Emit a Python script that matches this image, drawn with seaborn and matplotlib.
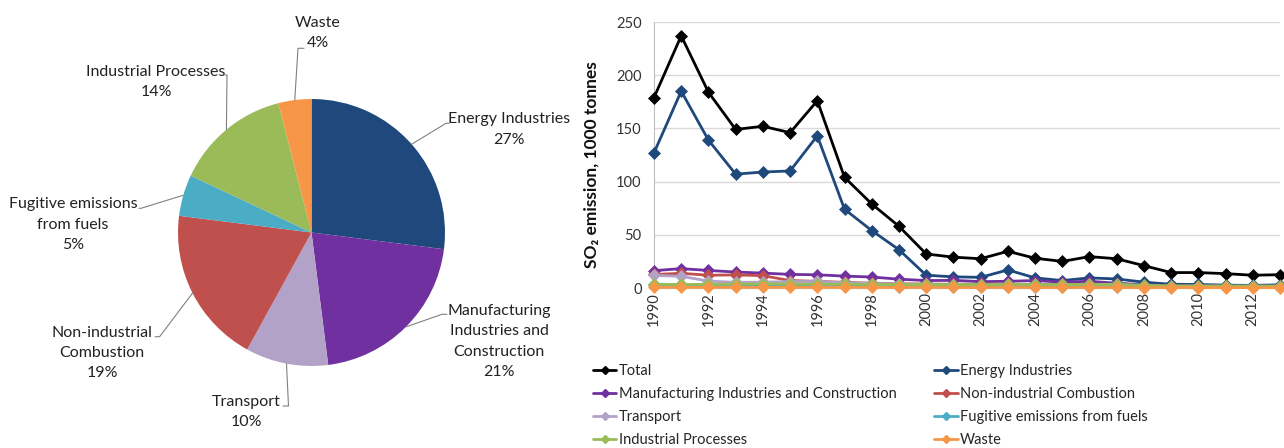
import numpy as np
import pandas as pd
import matplotlib
matplotlib.use("Agg")
import matplotlib.pyplot as plt
from matplotlib.lines import Line2D
import seaborn as sns

# ---------------- data ----------------
pie_labels = ["Energy Industries", "Manufacturing\nIndustries and\nConstruction", "Transport",
              "Non-industrial\nCombustion", "Fugitive emissions\nfrom fuels", "Industrial Processes", "Waste"]
pie_shares = [27, 21, 10, 19, 5, 14, 4]

years = list(range(1990, 2014))
total = [179, 237, 184, 149, 152, 146, 176, 104, 79, 58, 32, 29, 27.5, 34.5, 28, 25, 29.5, 27.5, 21, 14.5, 14.5, 13.5, 12, 12.5]
energy = [127, 185, 139, 107, 109, 110, 143, 74, 54, 36, 12, 10.5, 10, 17, 9.5, 7, 9.5, 8.5, 5.5, 3.5, 3.3, 2.7, 2.4, 3]
manufacturing = [16.3, 18.2, 16.5, 15, 14, 12.8, 12.4, 11.2, 10.3, 8.3, 7, 7.2, 6, 6.3, 7, 5.5, 6.3, 4.5, 3, 2.2, 2, 1.8, 1.6, 1.8]
non_industrial = [12.7, 13.8, 12, 12.3, 11.6, 7, 6.3, 5.3, 4.5, 4, 3.7, 3.6, 3.6, 3.5, 3.4, 3.3, 3.3, 3, 2, 1.8, 1.7, 1.5, 1.4, 1.4]
transport = [11.8, 11, 6.5, 5.3, 5.5, 6, 6.2, 4.8, 4.2, 3.8, 3.3, 3.2, 3, 2.8, 2.8, 2.6, 2.6, 2.4, 1.5, 1, 0.9, 0.8, 0.8, 0.8]
fugitive = [3, 2.8, 2.8, 2.8, 3.2, 2.6, 2.5, 2.2, 1.5, 1.2, 1.2, 1.2, 1.1, 1.1, 1.1, 1, 1, 1, 0.9, 0.8, 0.8, 0.7, 0.7, 0.7]
industrial = [3.5, 3.3, 3.5, 3.6, 4, 3.7, 3.6, 3.6, 3.4, 3.2, 3.3, 3.2, 3.2, 3.3, 3.3, 3.3, 3.4, 3.5, 2.6, 2, 2, 2, 1.9, 1.9]
waste = [0.6, 0.6, 0.6, 0.6, 0.6, 0.6, 0.6, 0.6, 0.6, 0.5, 0.5, 0.5, 0.5, 0.5, 0.5, 0.5, 0.5, 0.5, 0.4, 0.4, 0.4, 0.4, 0.4, 0.4]

series_names = ["Total", "Energy Industries", "Manufacturing Industries and Construction",
                "Non-industrial Combustion", "Transport", "Fugitive emissions from fuels",
                "Industrial Processes", "Waste"]
series_values = [total, energy, manufacturing, non_industrial, transport, fugitive, industrial, waste]

# ---------------- style ----------------
colors = {
    "Total": "#000000",
    "Energy Industries": "#1F497D",
    "Manufacturing Industries and Construction": "#7030A0",
    "Non-industrial Combustion": "#C0504D",
    "Transport": "#B3A2C7",
    "Fugitive emissions from fuels": "#4BACC6",
    "Industrial Processes": "#9BBB59",
    "Waste": "#F79646",
}
pie_colors = ["#1F497D", "#7030A0", "#B3A2C7", "#C0504D", "#4BACC6", "#9BBB59", "#F79646"]

sns.set_style("white")
plt.rcParams['font.family'] = ['Lato', 'DejaVu Sans']

W, H = 1284, 448
fig = plt.figure(figsize=(W / 100, H / 100), dpi=100)


def P(x, y):
    """pixel (top-origin) -> figure fraction"""
    return x / W, 1 - y / H


# ---------------- pie ----------------
cx, cy, r = 311.5, 232.5, 133.5
axp = fig.add_axes([(cx - r) / W, 1 - (cy + r) / H, 2 * r / W, 2 * r / H])
wedges, _ = axp.pie(pie_shares, colors=pie_colors, startangle=90, counterclock=False,
                    wedgeprops=dict(linewidth=0))
axp.set_xlim(-1, 1)
axp.set_ylim(-1, 1)
axp.set_aspect('auto')
axp.axis('off')

label_pos = [(509, 129.5), (499, 341.5), (246, 412), (102, 353), (73, 224.7), (156, 82), (318, 33)]
elbows = [
    [(446, 123.3), (449, 123.3)],
    [(442, 314.3), (447, 314.3)],
    [(288.5, 406), (283, 406)],
    [(159.6, 336.7), (155, 336.7)],
    [(141, 208.3), (139, 208.3)],
    [(227, 75), (225, 75)],
    [(298, 48.3), (304, 48.3)],
]
fig.canvas.draw()
inv = fig.transFigure.inverted()
for w, lab, share, pos, elb in zip(wedges, pie_labels, pie_shares, label_pos, elbows):
    th = np.deg2rad((w.theta1 + w.theta2) / 2)
    sx, sy = inv.transform(axp.transData.transform((np.cos(th), np.sin(th))))
    xs = [sx] + [P(*p)[0] for p in elb]
    ys = [sy] + [P(*p)[1] for p in elb]
    fig.add_artist(Line2D(xs, ys, transform=fig.transFigure, color="#808080", lw=0.8))
    tx, ty = P(*pos)
    fig.text(tx, ty, f"{lab}\n{share}%", ha='center', va='center', fontsize=11.5,
             linespacing=1.58, color="#222222")

# ---------------- line chart ----------------
x0, x1, y0, y1 = 654, 1280, 288, 22
ax = fig.add_axes([x0 / W, 1 - y0 / H, (x1 - x0) / W, (y0 - y1) / H])
for name, vals in zip(series_names, series_values):
    c = colors[name]
    sns.lineplot(x=years, y=vals, ax=ax, color=c, marker='D', markersize=6.5,
                 markeredgecolor=c, markeredgewidth=0.5, linewidth=2, clip_on=False,
                 legend=False, zorder=3)
ax.set_xlim(1990, 2013)
ax.set_ylim(0, 250)
ax.set_yticks(range(0, 251, 50))
ax.set_xticks(range(1990, 2013, 2))
ax.set_xticklabels([str(y) for y in range(1990, 2013, 2)], rotation=90)
ax.tick_params(axis='both', length=0, labelsize=10.5, colors="#333333")
ax.tick_params(axis='x', pad=3)
ax.tick_params(axis='y', pad=9)
ax.grid(axis='y', color="#D9D9D9", lw=1)
ax.grid(axis='x', visible=False)
ax.set_axisbelow(True)
for s in ['top', 'right']:
    ax.spines[s].set_visible(False)
ax.spines['left'].set_color("#BFBFBF")
ax.spines['bottom'].set_color("#BFBFBF")
ax.set_xlabel("")
ax.set_ylabel("")
fig.text(*P(592, 164.5), "SO\u2082 emission, 1000 tonnes", rotation=90, ha='center', va='center',
         fontsize=12.5, fontweight='bold', color="#111111")

# legend (row-major order in two columns)
order = ["Total", "Manufacturing Industries and Construction", "Transport", "Industrial Processes",
         "Energy Industries", "Non-industrial Combustion", "Fugitive emissions from fuels", "Waste"]
handles = [Line2D([], [], color=colors[n], marker='D', markersize=4.5, lw=2) for n in order]
fig.legend(handles, order, loc='upper left', bbox_to_anchor=P(593, 364), ncol=2, frameon=False,
           fontsize=10.5, handlelength=1.6, handletextpad=0.15, labelspacing=0.62,
           columnspacing=2.6, borderpad=0, borderaxespad=0)

fig.savefig("out.png", dpi=100)
